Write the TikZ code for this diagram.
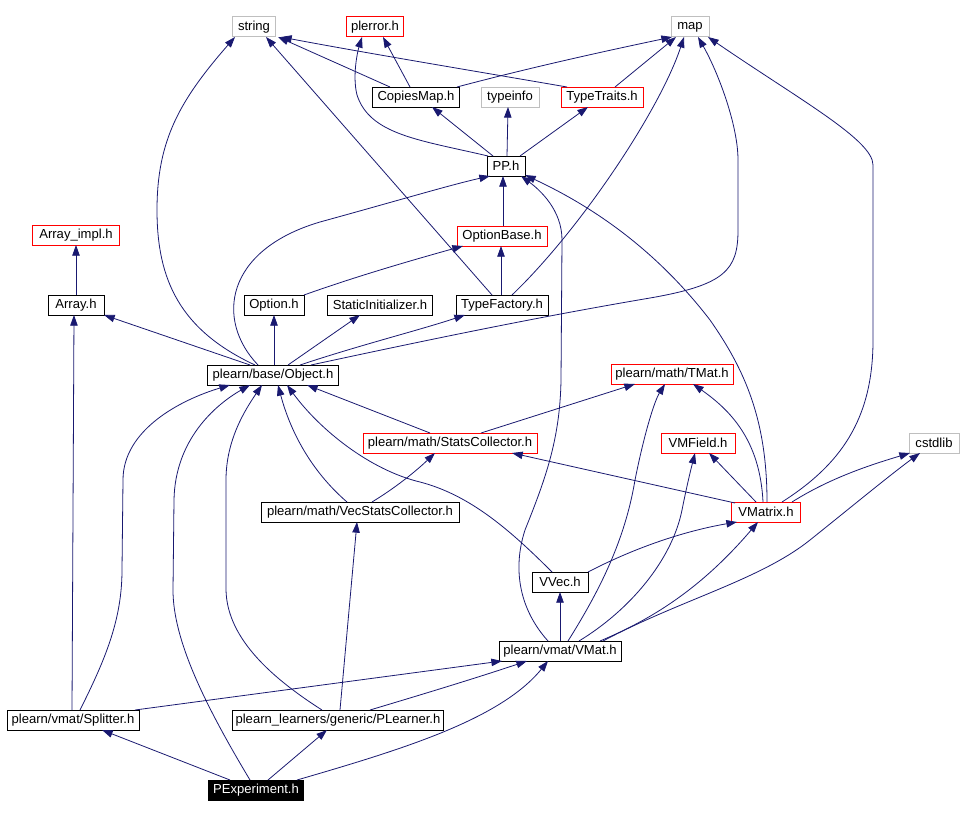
\documentclass[tikz,border=0pt]{standalone}
\usepackage{fontspec}
\setmainfont{Liberation Sans}
\usetikzlibrary{arrows.meta}
\definecolor{navy}{HTML}{191970}
\definecolor{grayb}{HTML}{BFBFBF}
\tikzset{
  box/.style={draw=black, line width=0.75pt, rectangle, inner sep=0pt, minimum height=15pt, fill=white, text=black, font=\fontsize{9.8}{11}\selectfont},
  redbox/.style={box, draw=red},
  graybox/.style={box, draw=grayb},
  mainbox/.style={box, fill=black, text=white},
  bw/.style={minimum width=#1*0.75pt},
  dep/.style={draw=navy, line width=0.6pt, -{Triangle[length=8pt,width=5.6pt]}}
}
\begin{document}
\begin{tikzpicture}[x=0.75pt,y=-0.75pt]
\useasboundingbox (0,0) rectangle (962,817);
% nodes
\node[graybox,bw=43] (str) at (254,27) {string};
\node[redbox,bw=57] (plerr) at (375,27) {plerror.h};
\node[graybox,bw=38] (map) at (690,27) {map};
\node[box,bw=87] (copies) at (416,97) {CopiesMap.h};
\node[graybox,bw=58] (typeinfo) at (510,97) {typeinfo};
\node[redbox,bw=82] (ttraits) at (602,97) {TypeTraits.h};
\node[box,bw=38] (pp) at (506,166) {PP.h};
\node[redbox,bw=90] (optb) at (502,236) {OptionBase.h};
\node[redbox,bw=87] (arrimpl) at (76,235) {Array\_impl.h};
\node[box,bw=56] (array) at (76,305) {Array.h};
\node[box,bw=60] (option) at (274,305) {Option.h};
\node[box,bw=105] (static) at (380,305) {StaticInitializer.h};
\node[box,bw=92] (tfact) at (502,305) {TypeFactory.h};
\node[box,bw=131] (obj) at (273,375) {plearn/base/Object.h};
\node[redbox,bw=122] (tmat) at (672,374) {plearn/math/TMat.h};
\node[redbox,bw=174] (stats) at (450,443) {plearn/math/StatsCollector.h};
\node[redbox,bw=74] (vmfield) at (698,443) {VMField.h};
\node[graybox,bw=50] (cstd) at (934,443) {cstdlib};
\node[box,bw=198] (vecstats) at (360,512) {plearn/math/VecStatsCollector.h};
\node[redbox,bw=69] (vmatrix) at (766,512) {VMatrix.h};
\node[box,bw=56] (vvec) at (560,582) {VVec.h};
\node[box,bw=122] (vmat) at (560,651) {plearn/vmat/VMat.h};
\node[box,bw=132] (split) at (73,720) {plearn/vmat/Splitter.h};
\node[box,bw=211] (plearn) at (338,720) {plearn\_learners/generic/PLearner.h};
\node[mainbox,bw=95] (pexp) at (256,790) {PExperiment.h};
% edges
\draw[dep] ([shift={(-26,-10)}]copies.center) -- ([shift={(24,10)}]str.center);
\draw[dep] ([shift={(-6,-10)}]copies.center) -- ([shift={(8,10)}]plerr.center);
\draw[dep] ([shift={(41,-10)}]copies.center) .. controls (540,65) and (620,48) .. ([shift={(-18,10)}]map.center);
\draw[dep] ([shift={(-35,-10)}]ttraits.center) .. controls (480,72) and (360,52) .. ([shift={(27,10)}]str.center);
\draw[dep] ([shift={(13,-10)}]ttraits.center) -- ([shift={(-14,10)}]map.center);
\draw[dep] ([shift={(-18,-10)}]pp.center) .. controls (420,140) and (370,135) .. (357,95) .. controls (352,75) and (358,50) .. ([shift={(-13,10)}]plerr.center);
\draw[dep] ([shift={(-13,-10)}]pp.center) -- ([shift={(16,10)}]copies.center);
\draw[dep] ([shift={(1,-10)}]pp.center) -- ([shift={(-2,10)}]typeinfo.center);
\draw[dep] ([shift={(14,-10)}]pp.center) -- ([shift={(-14,10)}]ttraits.center);
\draw[dep] ([shift={(1,-10)}]optb.center) -- ([shift={(-3,10)}]pp.center);
\draw[dep] ([shift={(-1,-10)}]tfact.center) -- ([shift={(-1,10)}]optb.center);
\draw[dep] ([shift={(-10,-10)}]tfact.center) -- ([shift={(12,10)}]str.center);
\draw[dep] ([shift={(10,-10)}]tfact.center) .. controls (580,230) and (660,110) .. ([shift={(-6,10)}]map.center);
\draw[dep] ([shift={(30,-10)}]option.center) .. controls (360,275) and (420,258) .. ([shift={(-39,10)}]optb.center);
\draw[dep] ([shift={(0,-10)}]array.center) -- ([shift={(0,10)}]arrimpl.center);
\draw[dep] ([shift={(-18,-10)}]obj.center) .. controls (180,330) and (157,280) .. (157,210) .. controls (157,140) and (180,100) .. ([shift={(-19,10)}]str.center);
\draw[dep] ([shift={(-15,-10)}]obj.center) .. controls (215,320) and (225,250) .. (320,222) .. controls (400,200) and (450,185) .. ([shift={(-16,10)}]pp.center);
\draw[dep] ([shift={(-23,-10)}]obj.center) -- ([shift={(28,10)}]array.center);
\draw[dep] ([shift={(1,-10)}]obj.center) -- ([shift={(0,10)}]option.center);
\draw[dep] ([shift={(15,-10)}]obj.center) -- ([shift={(-20,10)}]static.center);
\draw[dep] ([shift={(27,-10)}]obj.center) .. controls (360,345) and (420,330) .. ([shift={(-37,10)}]tfact.center);
\draw[dep] ([shift={(38,-10)}]obj.center) .. controls (450,335) and (550,315) .. (650,298) .. controls (725,285) and (738,270) .. (738,230) -- (738,160) .. controls (738,125) and (718,72) .. ([shift={(8,10)}]map.center);
\draw[dep] ([shift={(-20,-10)}]stats.center) -- ([shift={(34,10)}]obj.center);
\draw[dep] ([shift={(31,-10)}]stats.center) -- ([shift={(-37,10)}]tmat.center);
\draw[dep] ([shift={(-13,-10)}]vecstats.center) .. controls (310,470) and (290,430) .. ([shift={(5,10)}]obj.center);
\draw[dep] ([shift={(12,-10)}]vecstats.center) .. controls (395,488) and (415,472) .. ([shift={(-15,10)}]stats.center);
\draw[dep] ([shift={(-31,-9)}]vmatrix.center) -- ([shift={(62,10)}]stats.center);
\draw[dep] ([shift={(-3,-10)}]vmatrix.center) .. controls (760,440) and (730,410) .. ([shift={(21,10)}]tmat.center);
\draw[dep] ([shift={(-10,-10)}]vmatrix.center) -- ([shift={(11,10)}]vmfield.center);
\draw[dep] ([shift={(26,-10)}]vmatrix.center) .. controls (830,478) and (870,465) .. ([shift={(-24,10)}]cstd.center);
\draw[dep] ([shift={(16,-10)}]vmatrix.center) .. controls (840,465) and (873,420) .. (873,340) -- (873,165) .. controls (873,140) and (800,100) .. ([shift={(18,10)}]map.center);
\draw[dep] ([shift={(1,-10)}]vmatrix.center) .. controls (767,420) and (745,370) .. (710,320) .. controls (660,255) and (600,210) .. ([shift={(19,9)}]pp.center);
\draw[dep] ([shift={(-8,-10)}]vvec.center) .. controls (510,530) and (470,495) .. (420,482) .. controls (370,470) and (320,430) .. ([shift={(14,10)}]obj.center);
\draw[dep] ([shift={(28,-10)}]vvec.center) .. controls (640,545) and (690,530) .. ([shift={(-29,10)}]vmatrix.center);
\draw[dep] ([shift={(0,-10)}]vmat.center) -- ([shift={(0,10)}]vvec.center);
\draw[dep] ([shift={(-12,-10)}]vmat.center) .. controls (520,610) and (512,570) .. (525,530) .. controls (545,480) and (560,440) .. (561,380) -- (562,240) .. controls (562,210) and (540,190) .. ([shift={(15,10)}]pp.center);
\draw[dep] ([shift={(8,-10)}]vmat.center) .. controls (600,590) and (625,540) .. (635,480) .. controls (645,430) and (655,400) .. ([shift={(-7,10)}]tmat.center);
\draw[dep] ([shift={(19,-10)}]vmat.center) .. controls (630,610) and (672,560) .. (682,510) .. controls (688,480) and (692,465) .. ([shift={(-3,10)}]vmfield.center);
\draw[dep] ([shift={(40,-10)}]vmat.center) .. controls (650,620) and (700,590) .. ([shift={(-8,10)}]vmatrix.center);
\draw[dep] ([shift={(43,-10)}]vmat.center) .. controls (680,600) and (760,580) .. (810,540) .. controls (850,508) and (890,475) .. ([shift={(-14,10)}]cstd.center);
\draw[dep] ([shift={(-1,-10)}]split.center) -- ([shift={(-2,10)}]array.center);
\draw[dep] ([shift={(7,-10)}]split.center) .. controls (105,660) and (122,620) .. (122,570) -- (123,480) .. controls (123,430) and (180,400) .. ([shift={(-43,10)}]obj.center);
\draw[dep] ([shift={(62,-10)}]split.center) -- ([shift={(-58,10)}]vmat.center);
\draw[dep] ([shift={(-16,-10)}]plearn.center) .. controls (275,680) and (227,640) .. (226,590) -- (226,480) .. controls (226,440) and (245,410) .. ([shift={(-11,10)}]obj.center);
\draw[dep] ([shift={(2,-10)}]plearn.center) -- ([shift={(-3,10)}]vecstats.center);
\draw[dep] ([shift={(32,-10)}]plearn.center) .. controls (420,695) and (470,680) .. ([shift={(-33,10)}]vmat.center);
\draw[dep] ([shift={(-26,-10)}]pexp.center) -- ([shift={(29,10)}]split.center);
\draw[dep] ([shift={(12,-10)}]pexp.center) -- ([shift={(-11,10)}]plearn.center);
\draw[dep] ([shift={(-6,-10)}]pexp.center) .. controls (205,705) and (173,640) .. (173,590) -- (174,500) .. controls (175,440) and (215,405) .. ([shift={(-23,10)}]obj.center);
\draw[dep] ([shift={(41,-10)}]pexp.center) .. controls (400,750) and (500,720) .. ([shift={(-12,10)}]vmat.center);
\end{tikzpicture}
\end{document}
